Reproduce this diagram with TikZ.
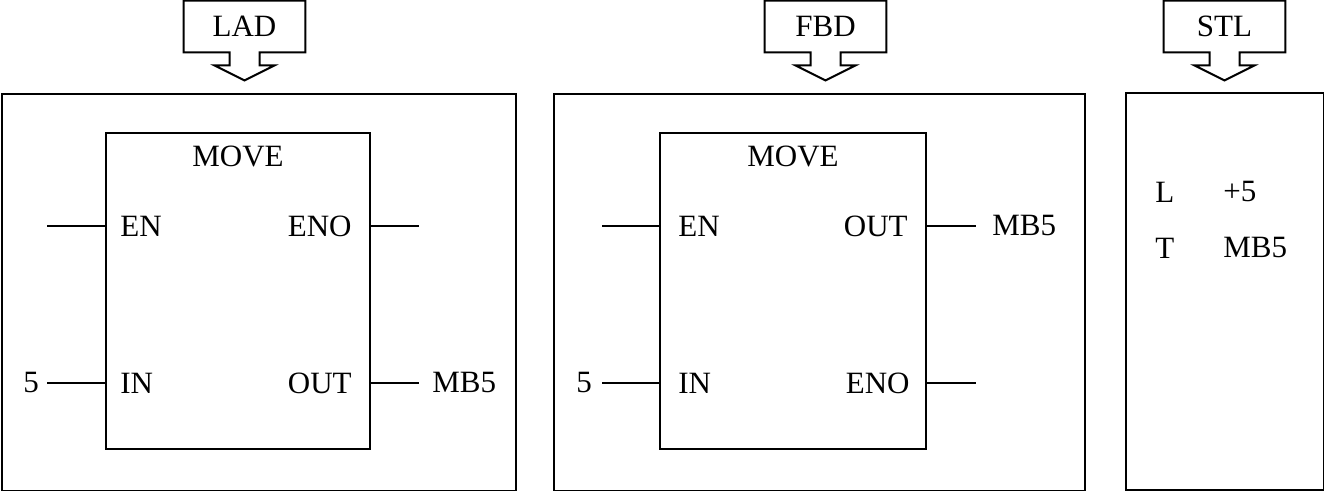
\documentclass[tikz,border=0pt]{standalone}
\usepackage{fontspec}
\setmainfont{Liberation Serif}
\usetikzlibrary{positioning}

\begin{document}
\begin{tikzpicture}[
  x=0.5pt, y=-0.5pt,
  frame/.style={draw, line width=1pt, anchor=north west, minimum height=198.5pt, inner sep=0pt},
  block/.style={draw, line width=1pt, anchor=north west, minimum height=158pt, inner sep=0pt},
  txt/.style={inner sep=0pt, font=\fontsize{15.5}{18}\selectfont},
  lbl/.style={txt, minimum width=60.5pt, minimum height=25.5pt},
  wire/.style={line width=1pt},
  callout/.style={line width=1pt, line join=miter}]
\useasboundingbox (0,0) rectangle (1324,491);
% language labels with down arrows
\node[lbl] (ladlbl) at (244.5,26.5) {LAD};
\node[lbl] (fbdlbl) at (825.5,26.5) {FBD};
\node[lbl] (stllbl) at (1224.5,26.5) {STL};
\foreach \n in {ladlbl,fbdlbl,stllbl}
  \draw[callout] (\n.south west) -- (\n.north west) -- (\n.north east) -- (\n.south east)
    -- ([shift={(15,0)}]\n.south) -- ++(0,13) -- ++(15,0) -- ++(-30,15) -- ++(-30,-15)
    -- ++(15,0) -- ++(0,-13) -- cycle;
% LAD
\node[frame, minimum width=257pt] (ladframe) at (1,93) {};
\node[block, minimum width=132pt] (ladmove) at (105,132) {};
\node[txt, below=7pt of ladmove.north] (ladtitle) {MOVE};
\node[txt, anchor=west] (laden) at (120,226) {EN};
\node[txt, anchor=east] (ladeno) at (352,226) {ENO};
\node[txt, anchor=west] (ladin) at (120,383) {IN};
\node[txt, anchor=east] (ladout) at (352,383) {OUT};
\node[txt] (lad5) at (31,383) {5};
\node[txt, anchor=west] (ladmb5) at (432,383) {MB5};
\coordinate (ladenfree) at (47,226);
\coordinate (ladenofree) at (419,226);
\draw[wire] (ladenfree) -- (ladmove.west |- ladenfree);
\draw[wire] (ladmove.east |- ladenofree) -- (ladenofree);
\draw[wire, shorten <=4pt] (lad5) -- (ladmove.west |- lad5);
\draw[wire, shorten >=6.5pt] (ladmove.east |- ladmb5) -- (ladmb5);
% FBD
\node[frame, minimum width=265.5pt] (fbdframe) at (553,93) {};
\node[block, minimum width=133pt] (fbdmove) at (659,132) {};
\node[txt, below=7pt of fbdmove.north] (fbdtitle) {MOVE};
\node[txt, anchor=west] (fbden) at (678,226) {EN};
\node[txt, anchor=east] (fbdout) at (908,226) {OUT};
\node[txt, anchor=west] (fbdin) at (678,383) {IN};
\node[txt, anchor=east] (fbdeno) at (910,383) {ENO};
\node[txt] (fbd5) at (584,383) {5};
\node[txt, anchor=west] (fbdmb5) at (992,226) {MB5};
\coordinate (fbdenfree) at (602,226);
\coordinate (fbdenofree) at (976,383);
\draw[wire] (fbdenfree) -- (fbdmove.west |- fbdenfree);
\draw[wire, shorten >=8pt] (fbdmove.east |- fbdmb5) -- (fbdmb5);
\draw[wire, shorten <=5pt] (fbd5) -- (fbdmove.west |- fbd5);
\draw[wire] (fbdmove.east |- fbdenofree) -- (fbdenofree);
% STL
\node[frame, minimum width=99pt] (stlframe) at (1125,92) {};
\node[txt, anchor=west] (stlload) at (1155,192) {L};
\node[txt, anchor=west] (stlconst) at (1223,192) {+5};
\node[txt, anchor=west] (stltransfer) at (1155,248) {T};
\node[txt, anchor=west] (stlmb5) at (1223,248) {MB5};
\end{tikzpicture}
\end{document}
